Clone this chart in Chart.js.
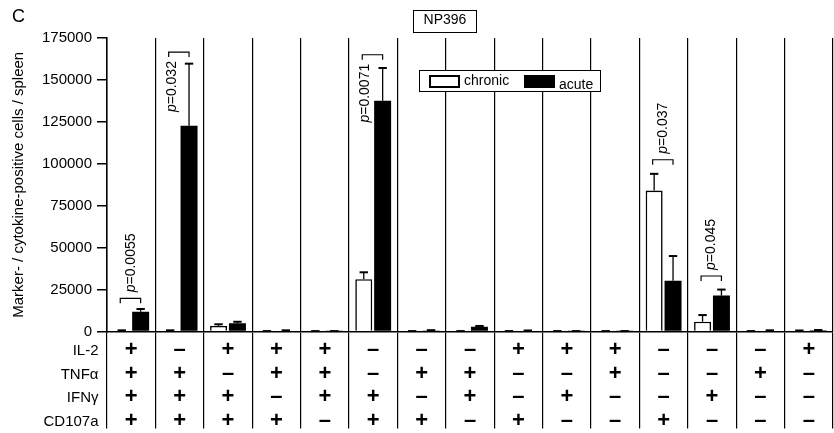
<!DOCTYPE html>
<html><head><meta charset="utf-8">
<script src="https://cdn.jsdelivr.net/npm/chart.js@4/dist/chart.umd.min.js"></script>
<style>html,body{margin:0;padding:0;background:#fff}canvas{display:block}</style>
</head><body>
<canvas id="c" width="834" height="433"></canvas>
<script>
// ---- data ----
const rowNames = ['IL-2', 'TNFα', 'IFNγ', 'CD107a'];
const il2    = ['+','–','+','+','+','–','–','–','+','+','+','–','–','–','+'];
const tnfa   = ['+','+','–','+','+','–','+','+','–','–','+','–','–','+','–'];
const ifng   = ['+','+','+','–','+','+','–','+','–','+','–','–','+','–','–'];
const cd107a = ['+','+','+','+','–','+','+','–','+','–','–','+','–','–','–'];

const seriesNames = ['chronic', 'acute'];
const chronic    = [500, 500, 3300, 150, 150, 31200, 150, 150, 150, 150, 150, 84000, 5800, 150, 400];
const chronicErr = [200, 200, 1000, 100, 100, 4100, 100, 100, 100, 100, 100, 10000, 4000, 100, 200];
const acute      = [11800, 122700, 4900, 500, 150, 137600, 600, 2900, 400, 150, 150, 30300, 21400, 500, 700];
const acuteErr   = [1600, 37000, 900, 200, 100, 19500, 200, 400, 200, 100, 100, 14700, 3600, 200, 200];

const yTicks = [0, 25000, 50000, 75000, 100000, 125000, 150000, 175000];

const pCats   = [0, 1, 5, 11, 12];
const pTexts  = ['=0.0055', '=0.032', '=0.0071', '=0.037', '=0.045'];
const pLevels = [19800, 166600, 165000, 102400, 33100];
const pPlace  = ['above', 'below', 'below', 'above', 'above'];

const panelLetter = 'C';
const panelTitle = 'NP396';
const yTitle = 'Marker- / cytokine-positive cells / spleen';

// ---- chart ----
const FONT = '"Liberation Sans", Arial, Helvetica, sans-serif';
const labels = il2.map((v, i) => [il2[i], tnfa[i], ifng[i], cd107a[i]]);
const TICK_LEN = 97, TICK_PAD = -90.3, ROW_LH = 23.6, TICK_SIZE = 22;

const annot = {
  id: 'annot',
  afterDatasetsDraw(chart) {
    const ctx = chart.ctx, ys = chart.scales.y;
    ctx.save();
    ctx.strokeStyle = '#000';
    [[chronicErr, 0], [acuteErr, 1]].forEach(([errs, di]) => {
      const meta = chart.getDatasetMeta(di);
      meta.data.forEach((bar, i) => {
        const v = chart.data.datasets[di].data[i];
        const yb = ys.getPixelForValue(v);
        const yt = ys.getPixelForValue(v + errs[i]);
        ctx.lineWidth = 1.3;
        ctx.beginPath(); ctx.moveTo(bar.x, yb); ctx.lineTo(bar.x, yt); ctx.stroke();
        ctx.lineWidth = 2;
        ctx.beginPath(); ctx.moveTo(bar.x - 4.2, yt); ctx.lineTo(bar.x + 4.2, yt); ctx.stroke();
      });
    });
    // p-value brackets
    pCats.forEach((c, k) => {
      const b0 = chart.getDatasetMeta(0).data[c], b1 = chart.getDatasetMeta(1).data[c];
      const by = ys.getPixelForValue(pLevels[k]);
      ctx.lineWidth = 1.2;
      ctx.beginPath();
      ctx.moveTo(b0.x - 1.5, by + 5); ctx.lineTo(b0.x - 1.5, by); ctx.lineTo(b1.x, by); ctx.lineTo(b1.x, by + 5);
      ctx.stroke();
      let tx, ty;
      if (pPlace[k] === 'above') { tx = (b0.x + b1.x) / 2 - 0.5; ty = by - 6; }
      else { tx = b0.x + 1.5; ty = by + 9; }
      ctx.save();
      ctx.translate(tx, ty); ctx.rotate(-Math.PI / 2);
      ctx.textBaseline = 'middle'; ctx.textAlign = 'left'; ctx.fillStyle = '#000';
      ctx.font = 'italic 14px ' + FONT; const wp = ctx.measureText('p').width;
      ctx.font = '14px ' + FONT; const wr = ctx.measureText(pTexts[k]).width;
      const start = pPlace[k] === 'above' ? 0 : -(wp + wr);
      ctx.font = 'italic 14px ' + FONT; ctx.fillText('p', start, 0);
      ctx.font = '14px ' + FONT; ctx.fillText(pTexts[k], start + wp, 0);
      ctx.restore();
    });
    ctx.restore();
  },
  afterDraw(chart) {
    const ctx = chart.ctx, xs = chart.scales.x;
    ctx.save();
    ctx.fillStyle = '#000'; ctx.strokeStyle = '#000';
    // panel letter
    ctx.font = '18px ' + FONT; ctx.textBaseline = 'middle'; ctx.textAlign = 'left';
    ctx.fillText(panelLetter, 12, 17);
    // title box
    ctx.lineWidth = 1;
    ctx.strokeRect(413.5, 10.5, 63, 22);
    ctx.font = '14px ' + FONT; ctx.textAlign = 'center';
    ctx.fillText(panelTitle, 445, 20);
    // legend
    ctx.fillStyle = '#fff';
    ctx.fillRect(419.5, 70.5, 181, 21);
    ctx.fillStyle = '#000';
    ctx.lineWidth = 1; ctx.strokeRect(419.5, 70.5, 181, 21);
    ctx.lineWidth = 2; ctx.strokeRect(430, 76, 29, 11);
    ctx.fillRect(524, 75, 31, 13);
    ctx.textAlign = 'left'; ctx.font = '14px ' + FONT;
    ctx.fillText(seriesNames[0], 464, 81.5);
    ctx.fillText(seriesNames[1], 559, 85);
    // row labels of the table
    ctx.font = '15px ' + FONT; ctx.textAlign = 'right';
    const y0 = xs.top + TICK_LEN + TICK_PAD + ROW_LH / 2;
    rowNames.forEach((n, i) => ctx.fillText(n, 98.5, y0 + i * ROW_LH + 1));
    ctx.restore();
  }
};

new Chart(document.getElementById('c'), {
  type: 'bar',
  data: {
    labels: labels,
    datasets: [
      { label: seriesNames[0], data: chronic, backgroundColor: '#fff', borderColor: '#000', borderWidth: 1.6,
        categoryPercentage: 0.78, barPercentage: 0.9 },
      { label: seriesNames[1], data: acute, backgroundColor: '#000', borderColor: '#000', borderWidth: 0,
        categoryPercentage: 0.78, barPercentage: 0.9 }
    ]
  },
  options: {
    responsive: false, animation: false, devicePixelRatio: 1,
    layout: { padding: { top: 38, right: 1, bottom: 0, left: 0 } },
    plugins: { legend: { display: false }, tooltip: { enabled: false } },
    scales: {
      x: {
        offset: true,
        grid: { offset: true, color: '#000', lineWidth: 1.2, drawTicks: true, tickLength: TICK_LEN, drawOnChartArea: true },
        border: { display: true, color: '#000', width: 1.5 },
        ticks: { color: '#000', font: { family: FONT, size: TICK_SIZE, weight: 'bold', lineHeight: ROW_LH / TICK_SIZE },
                 padding: TICK_PAD, maxRotation: 0, minRotation: 0, autoSkip: false },
        afterFit(s) { s.height = 101.5; }
      },
      y: {
        min: 0, max: 175000,
        afterBuildTicks(s) { s.ticks = yTicks.map(v => ({ value: v })); },
        ticks: { color: '#000', font: { family: FONT, size: 15 }, padding: 5, callback: v => String(v) },
        grid: { drawOnChartArea: false, drawTicks: true, tickLength: 10, color: '#000', lineWidth: 1.5 },
        border: { display: true, color: '#000', width: 1.5 },
        title: { display: true, text: yTitle, color: '#000', font: { family: FONT, size: 15 }, padding: { top: 10, bottom: 0 } },
        afterFit(s) { s.width = 107; }
      }
    }
  },
  plugins: [annot]
});
</script>
</body></html>
